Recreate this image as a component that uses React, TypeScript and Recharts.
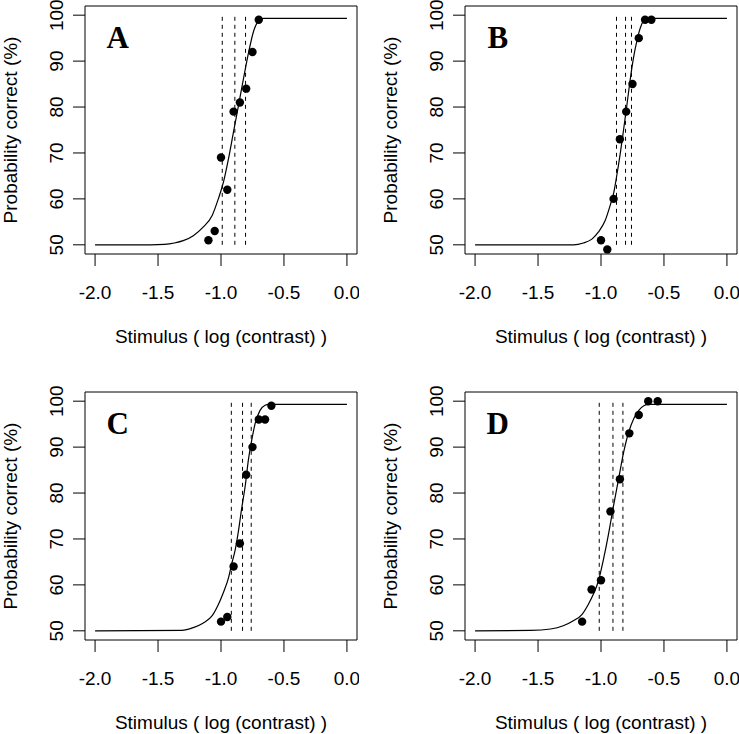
import { ComposedChart, XAxis, YAxis, Line, Scatter, ReferenceLine, ReferenceArea } from 'recharts';

const xTicks = [-2, -1.5, -1, -0.5, 0];
const yTicks = [50, 60, 70, 80, 90, 100];
const xDomain = [-2.08, 0.08];
const yDomain = [48, 102];
const panelLetters = ['A', 'B', 'C', 'D'];

// observed proportions correct
const stimA = [-1.1, -1.05, -1.0, -0.95, -0.9, -0.85, -0.8, -0.75, -0.7];
const correctA = [51, 53, 69, 62, 79, 81, 84, 92, 99];
const stimB = [-1.0, -0.95, -0.9, -0.85, -0.8, -0.75, -0.7, -0.65, -0.6];
const correctB = [51, 49, 60, 73, 79, 85, 95, 99, 99];
const stimC = [-1.0, -0.95, -0.9, -0.85, -0.8, -0.75, -0.7, -0.65, -0.6];
const correctC = [52, 53, 64, 69, 84, 90, 96, 96, 99];
const stimD = [-1.15, -1.075, -1.0, -0.925, -0.85, -0.775, -0.7, -0.625, -0.55];
const correctD = [52, 59, 61, 76, 83, 93, 97, 100, 100];

// fitted curves
const fitXA = [-2.0, -1.56, -1.45, -1.37, -1.3, -1.22, -1.14, -1.07, -1.02, -0.98, -0.94, -0.9, -0.86, -0.82, -0.78, -0.74, -0.7, -0.66, 0.0];
const fitYA = [50, 50, 50.1, 50.4, 50.9, 52.0, 53.9, 56.4, 60.1, 63.7, 68.8, 74.7, 80.5, 86.4, 92.0, 96.6, 98.8, 99.3, 99.3];
const fitXB = [-2.0, -1.22, -1.14, -1.07, -1.02, -0.967, -0.927, -0.9, -0.874, -0.847, -0.821, -0.794, -0.768, -0.742, -0.715, -0.688, -0.662, -0.635, 0.0];
const fitYB = [50, 50, 50.4, 51.3, 52.8, 55.3, 58.6, 61.2, 65.2, 69.9, 75.0, 80.5, 86.0, 90.7, 94.4, 97.2, 98.8, 99.3, 99.3];
const fitXC = [-2.0, -1.31, -1.22, -1.14, -1.07, -1.02, -0.98, -0.94, -0.915, -0.886, -0.861, -0.836, -0.807, -0.783, -0.756, -0.729, -0.69, -0.65, -0.62, 0.0];
const fitYC = [50, 50.1, 50.7, 51.7, 53.3, 55.8, 58.4, 61.6, 64.6, 67.8, 71.8, 76.6, 81.7, 87.1, 91.5, 95.1, 98.0, 99.1, 99.3, 99.3];
const fitXD = [-2.0, -1.56, -1.4, -1.3, -1.22, -1.15, -1.1, -1.06, -1.02, -0.98, -0.94, -0.9, -0.86, -0.82, -0.78, -0.74, -0.7, -0.66, -0.62, 0.0];
const fitYD = [50, 50.1, 50.4, 51.1, 52.2, 53.6, 55.8, 58.0, 60.9, 65.6, 71.1, 77.3, 83.1, 88.9, 93.3, 96.2, 98.0, 99.0, 99.3, 99.3];

// threshold estimates (dashed lines)
const threshA = [-0.99, -0.89, -0.805];
const threshB = [-0.877, -0.805, -0.758];
const threshC = [-0.918, -0.829, -0.76];
const threshD = [-1.014, -0.905, -0.826];

const FONT = '"Liberation Sans", Arial, sans-serif';
const SERIF = '"Liberation Serif", "Times New Roman", serif';
const PLOT_LEFT = 85;
const PLOT_TOP = 6;
const PLOT_W = 272;
const PLOT_H = 248;
const CHART_W = 359;
const CHART_H = 362;

const toPoints = (xs: number[], ys: number[]) => xs.map((x, i) => ({ x, y: ys[i] }));

const panels = [
  { left: 0, top: 0, stim: stimA, correct: correctA, fitX: fitXA, fitY: fitYA, thresh: threshA },
  { left: 380, top: 0, stim: stimB, correct: correctB, fitX: fitXB, fitY: fitYB, thresh: threshB },
  { left: 0, top: 386, stim: stimC, correct: correctC, fitX: fitXC, fitY: fitYC, thresh: threshC },
  { left: 380, top: 386, stim: stimD, correct: correctD, fitX: fitXD, fitY: fitYD, thresh: threshD },
];

const YTick = (props: any) => {
  const { x, y, payload } = props;
  return (
    <text x={x} y={y} transform={`rotate(-90, ${x}, ${y})`} textAnchor="middle" fill="#000" fontSize={19} fontFamily={FONT}>
      {payload.value}
    </text>
  );
};

const xTitle = () => (
  <text x={PLOT_LEFT + PLOT_W / 2} y={PLOT_TOP + PLOT_H + 89} textAnchor="middle" fill="#000" fontSize={19} fontFamily={FONT}>
    Stimulus ( log (contrast) )
  </text>
);

const yTitle = () => {
  const cx = PLOT_LEFT - 68;
  const cy = PLOT_TOP + PLOT_H / 2;
  return (
    <text x={cx} y={cy} transform={`rotate(-90, ${cx}, ${cy})`} textAnchor="middle" fill="#000" fontSize={19} fontFamily={FONT}>
      Probability correct (%)
    </text>
  );
};

const letterShape = (letter: string) => (props: any) => (
  <text x={props.cx} y={props.cy + 10} textAnchor="middle" fill="#000" fontSize={31} fontWeight="bold" fontFamily={SERIF}>
    {letter}
  </text>
);

function Panel({ cfg, letter }: any) {
  return (
    <div style={{ position: 'absolute', left: cfg.left, top: cfg.top }}>
      <ComposedChart width={CHART_W} height={CHART_H} margin={{ top: PLOT_TOP, right: 2, bottom: 0, left: 5 }}>
        <XAxis
          type="number"
          dataKey="x"
          domain={xDomain}
          ticks={xTicks}
          interval={0}
          allowDataOverflow
          tickFormatter={(v: number) => v.toFixed(1)}
          axisLine={false}
          tickSize={12}
          tickMargin={20}
          tickLine={{ stroke: '#000' }}
          tick={{ fill: '#000', fontSize: 19, fontFamily: FONT }}
          height={CHART_H - PLOT_TOP - PLOT_H}
          label={xTitle}
        />
        <YAxis
          type="number"
          dataKey="y"
          domain={yDomain}
          ticks={yTicks}
          interval={0}
          allowDataOverflow
          axisLine={false}
          tickSize={12}
          tickMargin={10}
          tickLine={{ stroke: '#000' }}
          tick={YTick}
          width={80}
          label={yTitle}
        />
        <ReferenceArea x1={xDomain[0]} x2={xDomain[1]} y1={yDomain[0]} y2={yDomain[1]} fill="none" fillOpacity={0} stroke="#000" strokeWidth={1} />
        {cfg.thresh.map((t: number, i: number) => (
          <ReferenceLine key={i} segment={[{ x: t, y: 50 }, { x: t, y: 100 }]} stroke="#000" strokeWidth={1} strokeDasharray="4 4" />
        ))}
        <Line
          data={toPoints(cfg.fitX, cfg.fitY)}
          dataKey="y"
          type="monotone"
          stroke="#000"
          strokeWidth={1.2}
          dot={false}
          activeDot={false}
          isAnimationActive={false}
        />
        <Scatter
          data={toPoints(cfg.stim, cfg.correct)}
          dataKey="y"
          shape={(p: any) => <circle cx={p.cx} cy={p.cy} r={4.2} fill="#000" />}
          isAnimationActive={false}
        />
        <Scatter data={[{ x: -1.82, y: 95 }]} dataKey="y" shape={letterShape(letter)} isAnimationActive={false} />
      </ComposedChart>
    </div>
  );
}

export default function App() {
  return (
    <div style={{ position: 'absolute', left: 0, top: 0, width: 739, height: 734, background: '#fff', overflow: 'hidden' }}>
      {panels.map((cfg, i) => (
        <Panel key={i} cfg={cfg} letter={panelLetters[i]} />
      ))}
    </div>
  );
}
